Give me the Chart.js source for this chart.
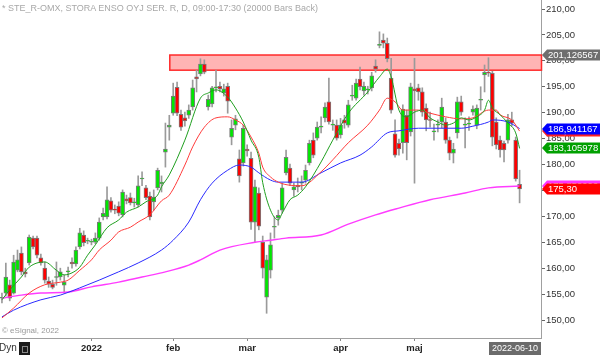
<!DOCTYPE html>
<html><head><meta charset="utf-8">
<script src="https://cdn.jsdelivr.net/npm/chart.js@4.4.1/dist/chart.umd.min.js"></script>
<style>
html,body{margin:0;padding:0;background:#fff;}
#wrap{position:relative;width:600px;height:355px;overflow:hidden;font-family:Arial,"Liberation Sans",sans-serif;}
canvas{position:absolute;left:0;top:0;}
.t{position:absolute;white-space:nowrap;}
</style></head><body>
<div id="wrap">
<canvas id="c" width="600" height="355"></canvas>
<div class="t" id="title" style="left:2px;top:3px;font-size:9px;color:#a8a8a8;"></div>
<div class="t" id="copy" style="left:2px;top:326px;font-size:8px;color:#999;"></div>
<div class="t" id="dyn" style="left:-1px;top:342px;font-size:10px;color:#333;">Dyn</div>
<div class="t" style="left:19px;top:342px;width:11px;height:13px;background:#1a1a1a;"></div>
<div class="t" style="left:22px;top:346px;width:4px;height:5px;border:1px solid #888;"></div>
<div class="t" id="lastdate" style="left:489px;top:342px;width:52px;height:13px;background:#6b6b6b;color:#fff;font-size:9px;line-height:13px;text-align:center;"></div>
</div>
<script>
const titleText = '* STE_R-OMX, STORA ENSO OYJ SER. R, D, 09:00-17:30 (20000 Bars Back)';
const copyText = '© eSignal, 2022';
const lastDate = '2022-06-10';

// x axis tick labels (category index -> label)
const tickIndex = [23, 44, 63, 87, 106];
const tickText = ['2022', 'feb', 'mar', 'apr', 'maj'];
const slotCount = 139;

// OHLC per trading day
const open = [
154.2,155.2,156.8,155.2,159.6,162.9,159.3,161.0,165.8,165.8,
162.0,160.0,157.5,156.9,158.2,158.3,156.7,159.3,161.2,160.8,
164.1,166.4,165.2,165.0,165.0,165.8,169.9,169.9,173.0,171.3,
172.0,170.3,173.4,173.6,172.6,172.2,177.2,175.5,173.9,172.8,
175.5,176.3,182.4,187.2,189.9,194.9,189.7,189.0,189.5,191.1,
196.9,197.5,199.4,191.1,191.7,194.8,195.1,193.8,195.1,185.3,
187.6,181.1,180.3,183.0,181.2,168.9,174.5,165.0,154.4,159.6,
167.9,169.7,171.2,178.4,179.3,175.1,176.0,176.4,177.0,180.3,
184.7,185.1,187.2,189.0,192.1,187.6,187.6,185.7,188.6,187.6,
193.2,192.8,196.5,194.2,194.4,194.8,199.0,203.0,204.0,203.4,
196.7,185.9,184.1,184.2,189.5,186.3,194.6,194.8,194.0,190.9,
188.6,186.3,187.6,188.2,188.2,184.7,182.2,186.1,192.1,187.6,
187.8,190.1,187.6,192.4,197.3,197.7,197.6,188.2,184.7,184.1,
184.7,188.6,184.7,176.2];
const high = [
155.2,161.0,157.7,162.5,163.5,164.1,160.0,166.4,166.2,166.2,
162.7,161.2,158.3,157.7,161.2,160.0,158.7,160.2,162.0,164.1,
167.7,167.2,165.8,165.6,166.8,169.7,171.6,175.7,173.6,172.2,
172.8,175.1,174.1,174.5,173.5,177.8,178.6,176.0,174.7,175.1,
179.3,177.8,188.0,189.5,195.7,195.9,190.5,190.1,191.5,196.3,
198.2,200.4,200.2,193.4,195.1,198.2,195.9,195.5,195.7,188.6,
189.5,182.8,187.6,183.8,182.4,177.0,175.5,166.2,162.5,166.8,
169.9,171.2,176.4,182.8,180.1,176.4,177.4,177.8,179.9,184.7,
186.1,188.2,189.2,191.9,196.7,188.6,188.6,188.9,189.5,192.4,
195.3,196.5,198.8,195.9,195.1,197.8,200.2,205.6,205.2,204.4,
200.5,188.6,184.9,191.5,190.5,195.7,200.5,195.5,194.8,191.7,
190.1,187.8,188.6,192.8,189.0,185.3,184.1,193.0,193.2,189.0,
189.2,191.3,191.5,195.0,199.2,200.6,198.0,189.0,185.5,184.5,
189.7,190.1,185.3,178.9];
const low = [
153.3,154.6,153.7,155.0,159.3,158.7,158.3,160.6,163.7,162.0,
160.6,157.1,156.3,156.0,156.7,157.7,155.2,158.3,160.0,160.4,
163.7,164.3,164.7,164.5,164.7,165.4,169.3,169.5,170.8,170.5,
170.1,169.9,172.4,172.2,171.8,171.8,175.9,173.2,169.3,171.2,
175.1,174.7,179.5,184.7,189.5,189.4,186.6,187.4,188.9,190.5,
194.0,197.1,197.5,190.5,191.1,194.0,194.0,193.2,189.9,183.8,
186.7,176.6,179.7,181.6,167.5,165.0,167.4,158.1,151.3,158.1,
165.8,168.3,170.6,178.0,175.9,173.9,174.7,175.1,176.4,179.9,
181.3,184.7,186.1,188.2,187.8,186.6,184.7,185.1,187.0,187.2,
192.4,192.4,194.4,193.4,193.6,194.2,197.8,202.5,202.5,199.8,
189.9,181.4,181.8,182.2,180.9,185.5,176.4,192.4,189.3,186.5,
187.2,184.7,186.3,187.0,184.1,180.9,180.3,185.1,189.5,183.2,
186.6,189.5,186.9,190.5,194.0,197.0,183.6,183.0,181.4,180.5,
184.1,187.4,176.8,172.6];
const close = [
154.4,158.3,154.2,161.2,161.6,159.3,158.9,166.0,164.1,162.5,
161.0,157.7,156.9,156.3,158.4,159.3,157.3,159.4,160.8,163.5,
166.8,164.9,165.3,165.1,165.8,168.9,170.6,173.2,171.2,171.2,
170.6,174.7,173.0,172.6,172.7,175.9,177.3,173.6,169.9,173.7,
178.9,176.6,183.0,187.6,193.2,189.9,187.2,188.4,190.5,194.8,
196.5,199.4,197.8,192.6,194.8,194.9,194.6,194.6,192.2,187.0,
188.8,177.8,187.0,182.6,168.9,175.7,168.1,160.0,161.6,164.5,
168.0,170.2,175.5,181.4,176.4,175.7,175.7,176.5,178.9,184.1,
181.8,187.2,187.3,191.1,188.2,187.7,185.1,187.6,188.0,191.5,
193.3,195.7,195.0,195.1,194.5,197.1,198.4,203.1,203.4,200.4,
190.5,181.8,183.0,190.7,184.2,195.0,194.2,194.0,190.1,188.6,
188.5,186.4,187.7,191.1,184.7,182.2,183.0,192.1,190.1,187.7,
187.9,190.7,190.9,192.5,197.8,197.6,185.3,183.8,182.8,182.8,
188.6,188.0,177.2,175.3];

// moving averages: [bar index, value]
const maGreen = [[0,153.9],[2,155.8],[5,158.3],[7,160.2],[11,161.2],[14,159.6],[16,158.7],[18,159.1],[20,160.2],[22,162.5],[24,164.5],[27,167.8],[30,169.3],[32,170.8],[35,171.8],[37,172.8],[40,174.1],[41,175.7],[43,178.0],[47,184.7],[51,192.8],[53,193.8],[55,194.4],[58,193.0],[60,190.9],[62,188.2],[64,184.7],[66,181.4],[67,176.5],[69,171.2],[71,169.3],[72,170.6],[74,173.2],[76,174.1],[78,175.7],[82,180.5],[85,184.7],[89,189.9],[94,194.0],[97,196.9],[99,198.4],[100,196.9],[102,190.5],[104,189.2],[106,190.1],[108,190.5],[110,189.0],[112,188.2],[114,187.6],[116,188.0],[118,189.0],[120,188.6],[122,189.2],[124,190.5],[125,192.4],[126,190.9],[128,189.6],[130,188.0],[132,186.1],[133,183.105978]];
const maRed = [[0,150.4],[3,152.3],[7,155.2],[11,156.8],[15,157.3],[17,157.7],[20,159.6],[23,161.6],[25,163.5],[28,165.4],[30,167.0],[33,167.9],[35,168.9],[38,170.3],[41,173.0],[43,174.1],[47,179.9],[49,183.4],[52,187.2],[55,189.0],[58,189.2],[60,188.6],[62,187.6],[64,185.3],[66,182.2],[67,179.5],[69,177.6],[71,176.6],[74,176.0],[77,175.9],[82,178.6],[85,180.9],[89,184.2],[94,187.6],[97,190.5],[99,192.8],[101,192.1],[103,190.5],[107,190.5],[110,189.9],[114,189.2],[118,188.8],[121,189.0],[125,190.5],[127,190.5],[128,189.6],[131,188.6],[133,186.451113]];
const maBlue = [[0,150.6],[3,151.9],[10,153.9],[15,154.8],[20,156.2],[25,157.7],[30,159.3],[35,161.0],[41,163.5],[44,165.4],[48,168.9],[51,173.2],[54,176.4],[58,178.9],[61,179.9],[64,179.5],[66,178.4],[69,177.0],[71,176.6],[77,176.6],[82,178.4],[87,180.3],[92,181.8],[95,183.4],[99,186.1],[102,186.5],[107,187.0],[113,187.0],[118,187.0],[121,187.4],[125,188.2],[126,188.6],[130,188.2],[133,186.941167]];
const maMagenta = [[0,154.2],[5,154.8],[10,155.2],[17,155.4],[23,156.4],[30,157.3],[36,158.3],[42,159.3],[48,160.6],[51,161.6],[56,163.5],[65,165.0],[69,165.4],[73,165.8],[82,166.4],[89,168.5],[96,170.3],[102,171.6],[110,173.2],[119,174.5],[125,175.5],[133,175.85]];

// resistance zone
const zoneStartIndex = 43;
const zoneTop = 201.126567;
const zoneBottom = 198.2;

// y axis range
const yMin = 146.53, yMax = 211.74;

document.getElementById('title').textContent = titleText;
document.getElementById('copy').textContent = copyText;
document.getElementById('lastdate').textContent = lastDate;

const labels = Array.from({length: slotCount}, (_, i) => String(i));
const toSeries = pairs => { const a = new Array(open.length).fill(null); pairs.forEach(([i, v]) => a[i] = v); return a; };
const last = arr => arr[arr.length - 1][1];

Chart.defaults.font.family = 'Arial, "Liberation Sans", sans-serif';

const zonePlugin = {
  id: 'zone',
  beforeDatasetsDraw(chart) {
    const {ctx, chartArea, scales} = chart;
    const x0 = scales.x.getPixelForValue(zoneStartIndex);
    const y0 = scales.y.getPixelForValue(zoneTop);
    const y1 = scales.y.getPixelForValue(zoneBottom);
    ctx.save();
    ctx.fillStyle = '#ffb4b4';
    ctx.fillRect(x0, y0, chartArea.right - x0, y1 - y0);
    ctx.strokeStyle = '#ff2a2a';
    ctx.lineWidth = 1.5;
    ctx.strokeRect(x0 + 0.5, y0, chartArea.right - x0, y1 - y0);
    ctx.restore();
  }
};

const fmt = (v, d) => v.toFixed(d).replace('.', ',');
const tagPlugin = {
  id: 'tags',
  afterDraw(chart) {
    const {ctx, chartArea, scales} = chart;
    const tags = [
      {v: zoneTop, t: fmt(zoneTop, 6), bg: '#6e6e6e'},
      {v: last(maMagenta), t: fmt(last(maMagenta), 6), bg: '#ff33ff'},
      {v: last(maRed), t: fmt(last(maRed), 6), bg: '#ff2020'},
      {v: last(maGreen), t: fmt(last(maGreen), 6), bg: '#00a000'},
      {v: last(maBlue), t: fmt(last(maBlue), 6), bg: '#0000ff'},
      {v: close[close.length - 1], t: fmt(close[close.length - 1], 2), bg: '#ff0000'}
    ];
    ctx.save();
    ctx.font = '9.5px Arial, "Liberation Sans", sans-serif';
    ctx.textBaseline = 'middle';
    ctx.textAlign = 'left';
    tags.forEach(tg => {
      const y = Math.round(scales.y.getPixelForValue(tg.v));
      const xl = chartArea.right + 1;
      ctx.fillStyle = tg.bg;
      ctx.beginPath();
      ctx.moveTo(xl, y);
      ctx.lineTo(xl + 5, y - 5.5);
      ctx.lineTo(600, y - 5.5);
      ctx.lineTo(600, y + 5.5);
      ctx.lineTo(xl + 5, y + 5.5);
      ctx.closePath();
      ctx.fill();
      ctx.fillStyle = '#ffffff';
      ctx.fillText(tg.t, xl + 6, y + 0.5);
    });
    ctx.restore();
  }
};

const lineDs = (pairs, color, order, width) => ({
  type: 'line', data: toSeries(pairs), borderColor: color, borderWidth: width,
  pointRadius: 0, spanGaps: true, cubicInterpolationMode: 'monotone', order
});

const noPad = s => { s.paddingTop = 0; s.paddingBottom = 0; s.paddingLeft = 0; s.paddingRight = 0; };

new Chart(document.getElementById('c'), {
  type: 'bar',
  data: {
    labels,
    datasets: [
      lineDs(maGreen, '#1f9f1f', 1, 1),
      lineDs(maRed, '#ff3b3b', 2, 1),
      lineDs(maBlue, '#2a2aff', 3, 1),
      lineDs(maMagenta, '#ff3cff', 4, 1.4),
      {
        type: 'bar', data: open.map((o, i) => [o, close[i]]),
        backgroundColor: open.map((o, i) => close[i] >= o ? '#00e800' : '#ff0000'),
        borderColor: '#7a7a7a', borderWidth: 1, borderSkipped: false,
        barThickness: 4, minBarLength: 1, grouped: false, order: 9
      },
      {
        type: 'bar', data: low.map((l, i) => [l, high[i]]),
        backgroundColor: '#9a9a9a', borderWidth: 0,
        barThickness: 1, grouped: false, order: 10
      }
    ]
  },
  options: {
    responsive: false, animation: false, devicePixelRatio: 1,
    layout: {padding: 0},
    plugins: {legend: {display: false}, tooltip: {enabled: false}},
    scales: {
      x: {
        type: 'category', offset: true,
        grid: {
          offset: false, drawOnChartArea: false, drawTicks: true, tickLength: 3,
          color: c => tickIndex.includes(c.index) ? '#888' : 'rgba(0,0,0,0)'
        },
        border: {display: true, color: '#a0a0a0', width: 1},
        ticks: {
          autoSkip: false, maxRotation: 0, padding: 2,
          font: {size: 9.5, weight: 'bold'}, color: '#222',
          callback: (v, i) => { const k = tickIndex.indexOf(i); return k >= 0 ? tickText[k] : ''; }
        },
        afterFit: s => { s.height = 17; noPad(s); }
      },
      y: {
        position: 'right', min: yMin, max: yMax,
        grid: {drawOnChartArea: false, drawTicks: true, tickLength: 4, color: '#666'},
        border: {display: true, color: '#a0a0a0', width: 1},
        ticks: {
          stepSize: 5, includeBounds: false, padding: 1,
          font: {size: 9.5}, color: '#333',
          callback: v => fmt(v, 2)
        },
        afterFit: s => { s.width = 59; noPad(s); }
      }
    }
  },
  plugins: [zonePlugin, tagPlugin]
});
</script>
</body></html>
